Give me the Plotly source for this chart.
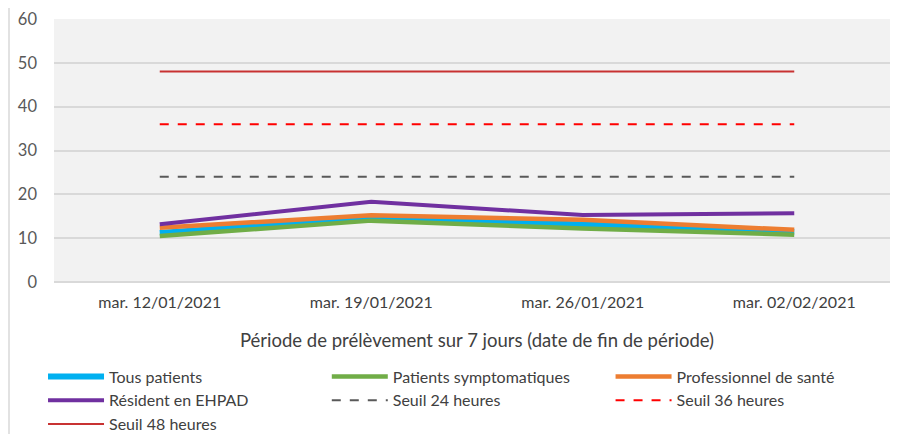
import plotly.graph_objects as go

categories = ["mar. 12/01/2021", "mar. 19/01/2021", "mar. 26/01/2021", "mar. 02/02/2021"]
tous_patients = [11.2, 14.6, 13.1, 11.4]
patients_symptomatiques = [10.5, 14.0, 12.2, 10.8]
professionnel_sante = [12.4, 15.2, 14.2, 11.9]
resident_ehpad = [13.2, 18.3, 15.3, 15.7]
seuil_24 = [24, 24, 24, 24]
seuil_36 = [36, 36, 36, 36]
seuil_48 = [48, 48, 48, 48]

FONT = "Lato, Liberation Sans, sans-serif"

fig = go.Figure()
series = [
    ("Tous patients", tous_patients, "#00B0F0", 6, "solid", "legend"),
    ("Patients symptomatiques", patients_symptomatiques, "#70AD47", 4.5, "solid", "legend2"),
    ("Professionnel de santé", professionnel_sante, "#ED7D31", 4.5, "solid", "legend3"),
    ("Résident en EHPAD", resident_ehpad, "#7030A0", 4, "solid", "legend"),
    ("Seuil 24 heures", seuil_24, "#595959", 2, "dash", "legend2"),
    ("Seuil 36 heures", seuil_36, "#FF0000", 2, "dash", "legend3"),
    ("Seuil 48 heures", seuil_48, "#C83232", 2, "solid", "legend"),
]
for name, vals, color, w, dash, lg in series:
    fig.add_trace(go.Scatter(
        x=categories, y=vals, name=name, mode="lines",
        line=dict(color=color, width=w, dash=dash), legend=lg,
    ))

leg_common = dict(
    orientation="v", xref="container", yref="container", xanchor="left",
    y=0.19, yanchor="top", font=dict(size=16, color="#404040"),
    bgcolor="rgba(0,0,0,0)", traceorder="normal", tracegroupgap=0,
    itemwidth=56,
)

L, R = 46, 6
PW = 898 - L - R
fig.update_layout(
    width=898, height=434,
    margin=dict(l=L, r=R, t=11, b=160, autoexpand=False),
    paper_bgcolor="white",
    plot_bgcolor="#F2F2F2",
    font=dict(family=FONT, color="#595959", size=13),
    xaxis=dict(
        type="category", range=[-0.5, 3.5], showgrid=False, zeroline=False,
        showline=False, ticks="", tickfont=dict(size=16, color="#404040"),
        ticklabelstandoff=9,
        title=dict(text="Période de prélèvement sur 7 jours (date de fin de période)",
                   font=dict(size=18.5, color="#404040"), standoff=24),
    ),
    yaxis=dict(
        range=[0, 60], dtick=10, showgrid=True, gridcolor="#D9D9D9", gridwidth=1.5,
        zeroline=True, zerolinecolor="#D9D9D9", zerolinewidth=1.5,
        showline=False, ticks="", tickfont=dict(size=16.5, color="#595959"),
        ticklabelstandoff=16,
    ),
    legend=dict(x=0.039, **leg_common),
    legend2=dict(x=0.355, **leg_common),
    legend3=dict(x=0.671, **leg_common),
    showlegend=True,
)
fig.add_shape(type="line", xref="paper", yref="paper",
              x0=(1 - L) / PW, x1=(1 - L) / PW, y0=-0.7, y1=1.1,
              line=dict(color="#D9D9D9", width=1.5))

fig.write_html("out.html")
